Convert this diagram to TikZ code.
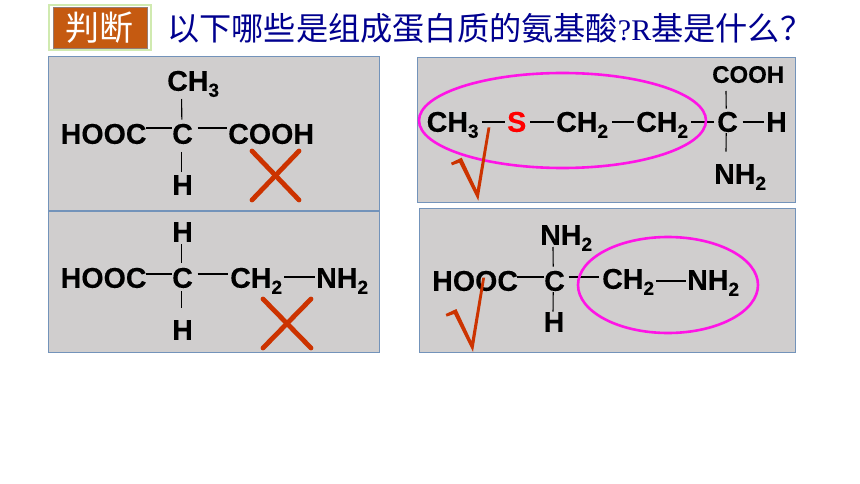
\documentclass[tikz,border=0pt]{standalone}
\usepackage{fontspec}
\setmainfont{Liberation Sans}[BoldFeatures={FakeBold=0.25}]
\newfontfamily\cjkfont{Noto Sans CJK SC}
\newfontfamily\serifroman{Liberation Serif}
\newcommand{\sbs}[1]{\raisebox{-6pt}{\fontsize{19}{19}\selectfont #1}}
\definecolor{panelfill}{HTML}{D0CECE}
\definecolor{panelline}{HTML}{7393BA}
\definecolor{badgefill}{HTML}{C55A11}
\definecolor{badgeline}{HTML}{D0EAB0}
\definecolor{titleblue}{HTML}{00008F}
\definecolor{markred}{HTML}{CC3300}
\definecolor{ringpink}{HTML}{FF14E6}
\tikzset{
 panel/.style={draw=panelline,fill=panelfill,line width=1pt},
 chem/.style={inner sep=0pt,anchor=south west,text height=20pt,text depth=0pt,font=\fontsize{28.6}{28.6}\selectfont\bfseries},
 chemsmall/.style={chem,text height=18pt,font=\fontsize{24}{24}\selectfont\bfseries},
 bond/.style={draw=black,line width=1.1pt},
 cross/.style={draw=markred,line width=4.8pt,line cap=round},
 ring/.style={draw=ringpink,line width=2.6pt},
 tick/.style={fill=markred,draw=none}
}
\begin{document}
\begin{tikzpicture}[x=1pt,y=-1pt]
\useasboundingbox (0,0) rectangle (860,484);
\fill[white] (0,0) rectangle (860,484);
% header
\node[draw=badgeline,line width=2pt,fill=white,minimum width=102pt,minimum height=45pt,inner sep=0pt] (badgeback) at (99.5,27.8) {};
\node[draw=panelline!60!badgefill,fill=badgefill,line width=0.6pt,minimum width=94pt,minimum height=40.5pt,inner sep=0pt,text=white,font=\cjkfont\fontsize{34}{34}\selectfont] (badge) at (99.8,27.8) {判断};
\node[anchor=west,inner sep=0pt,text=titleblue,font=\cjkfont\fontsize{32.2}{32.2}\selectfont] (title) at (167,28) {以下哪些是组成蛋白质的氨基酸{\serifroman\fontsize{30}{30}\selectfont ?R}基是什么？};
% panels
\path[panel] (48,56.5) rectangle (379.5,211);
\path[panel] (48,211.5) rectangle (379.5,352.5);
\path[panel] (417.5,58) rectangle (795.5,202.5);
\path[panel] (419,208.5) rectangle (795.5,352.5);
% top left
\node[chem] (a1) at (167,91) {CH\sbs{3}};
\node[chem] (a2) at (60.5,144) {HOOC};
\node[chem] (a3) at (172,144) {C};
\node[chem] (a4) at (228,144) {COOH};
\node[chem] (a5) at (172,195) {H};
\draw[bond] ([shift={(-0.7pt,4pt)}]a3.north) -- ([shift={(14.6pt,-8pt)}]a1.south west);
\draw[bond] ([shift={(-0.7pt,-8pt)}]a3.south) -- ([shift={(-0.7pt,3pt)}]a5.north);
\draw[bond] ([shift={(-1pt,16pt)}]a2.south east) -- ([shift={(0pt,16pt)}]a3.south west);
\draw[bond] ([shift={(4.5pt,16pt)}]a3.south east) -- ([shift={(-1pt,16pt)}]a4.south west);
\coordinate (x1a) at (252,151); \coordinate (x1b) at (299,200);
\coordinate (x1c) at (299,151); \coordinate (x1d) at (252,200);
\draw[cross] (x1a) -- (x1b); \draw[cross] (x1c) -- (x1d);
% bottom left
\node[chem] (b1) at (172,242) {H};
\node[chem] (b2) at (60.5,288) {HOOC};
\node[chem] (b3) at (172,288) {C};
\node[chem] (b4) at (230,288) {CH\sbs{2}};
\node[chem] (b5) at (316,288) {NH\sbs{2}};
\node[chem] (b6) at (172,340) {H};
\draw[bond] ([shift={(-0.7pt,5pt)}]b3.north) -- ([shift={(-0.7pt,-2pt)}]b1.south);
\draw[bond] ([shift={(-0.7pt,-3pt)}]b3.south) -- ([shift={(-0.7pt,12pt)}]b6.north);
\draw[bond] ([shift={(-1pt,14pt)}]b2.south east) -- ([shift={(0pt,14pt)}]b3.south west);
\draw[bond] ([shift={(4.5pt,14pt)}]b3.south east) -- ([shift={(-2pt,14pt)}]b4.south west);
\draw[bond] ([shift={(2pt,11pt)}]b4.south east) -- ([shift={(-1pt,11pt)}]b5.south west);
\coordinate (x2a) at (263,299); \coordinate (x2b) at (311,348);
\coordinate (x2c) at (311,299); \coordinate (x2d) at (263,348);
\draw[cross] (x2a) -- (x2b); \draw[cross] (x2c) -- (x2d);
% top right
\node[chem] (c1) at (426.5,132) {CH\sbs{3}};
\node[chem,text=red] (c2) at (507,132) {S};
\node[chem] (c3) at (556,132) {CH\sbs{2}};
\node[chem] (c4) at (636,132) {CH\sbs{2}};
\node[chem] (c5) at (717,132) {C};
\node[chem] (c6) at (766,132) {H};
\node[chemsmall] (c7) at (712,83) {COOH};
\node[chem] (c8) at (714,184) {NH\sbs{2}};
\draw[bond] ([shift={(3pt,10pt)}]c1.south east) -- ([shift={(-2pt,10pt)}]c2.south west);
\draw[bond] ([shift={(4pt,10pt)}]c2.south east) -- ([shift={(-2pt,10pt)}]c3.south west);
\draw[bond] ([shift={(3.5pt,10pt)}]c3.south east) -- ([shift={(-2pt,10pt)}]c4.south west);
\draw[bond] ([shift={(2.5pt,10pt)}]c4.south east) -- ([shift={(-3pt,10pt)}]c5.south west);
\draw[bond] ([shift={(4.5pt,10pt)}]c5.south east) -- ([shift={(-2pt,10pt)}]c6.south west);
\draw[bond] ([shift={(-1.3pt,3pt)}]c5.north) -- ([shift={(14pt,-8pt)}]c7.south west);
\draw[bond] ([shift={(-1.3pt,-1pt)}]c5.south) -- ([shift={(12pt,12pt)}]c8.north west);
\draw[ring] (562.5,120.5) ellipse [x radius=143.5,y radius=47.5];
\path[tick] (451,162.7) -- (461.7,157.7) -- (476.8,190) -- (487.6,127.3) -- (490.4,127.3) -- (478.3,200.7) -- (459.3,162.7) -- (452,165.3) -- cycle;
% bottom right
\node[chem] (d1) at (540,245) {NH\sbs{2}};
\node[chem] (d2) at (432,291) {HOOC};
\node[chem] (d3) at (544,291) {C};
\node[chem] (d4) at (602,289) {CH\sbs{2}};
\node[chem] (d5) at (687,290) {NH\sbs{2}};
\node[chem] (d6) at (543.5,332) {H};
\draw[bond] ([shift={(-1.3pt,4pt)}]d3.north) -- ([shift={(13pt,-2pt)}]d1.south west);
\draw[bond] ([shift={(-1.3pt,-1pt)}]d3.south) -- ([shift={(-1pt,0pt)}]d6.north);
\draw[bond] ([shift={(-1pt,14pt)}]d2.south east) -- ([shift={(0pt,14pt)}]d3.south west);
\draw[bond] ([shift={(3.5pt,14pt)}]d3.south east) -- ([shift={(-3pt,12pt)}]d4.south west);
\draw[bond] ([shift={(1.5pt,8pt)}]d4.south east) -- ([shift={(-1pt,9pt)}]d5.south west);
\draw[ring] (668,285) ellipse [x radius=90,y radius=48];
\path[tick] (445.7,314) -- (456.4,309) -- (471.5,341.3) -- (482.3,277.5) -- (485.1,277.5) -- (473,352) -- (454,314) -- (446.7,316.6) -- cycle;
\end{tikzpicture}
\end{document}
